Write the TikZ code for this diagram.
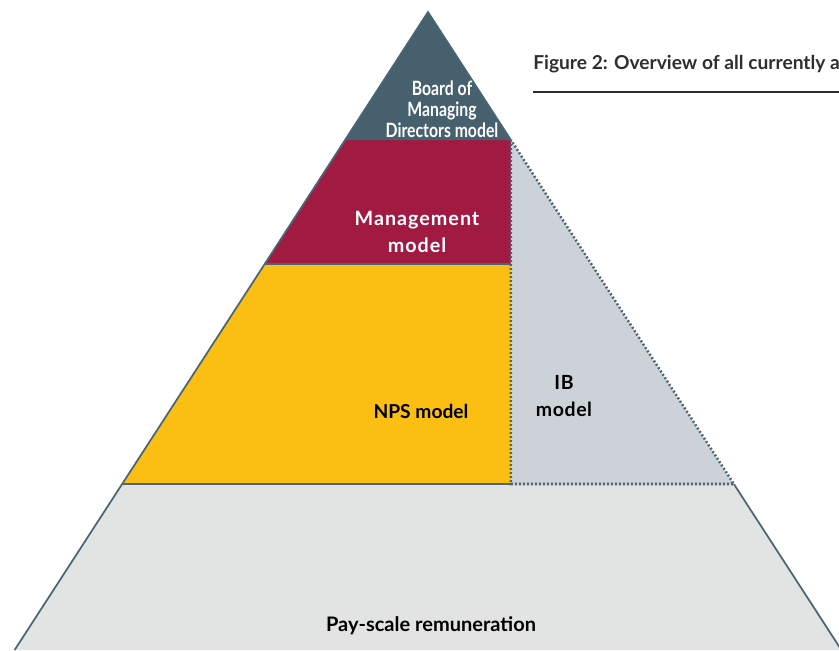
\documentclass[tikz,border=0pt]{standalone}
\usepackage{fontspec}
\setmainfont{Lato}
\newfontfamily\narrowfont[FakeStretch=0.8]{Lato}
\usetikzlibrary{calc}

\definecolor{edgeblue}{HTML}{4A6573}
\definecolor{boardblue}{HTML}{46606E}
\definecolor{mgmtred}{HTML}{A11A42}
\definecolor{npsyellow}{HTML}{FBBF14}
\definecolor{ibgrey}{HTML}{CDD2D8}
\definecolor{paygrey}{HTML}{E2E3E3}
\definecolor{titlegrey}{HTML}{2E2E2E}

\begin{document}
\begin{tikzpicture}[x=0.75pt,y=-0.75pt,
	edge/.style={draw=edgeblue, line width=1.3pt},
	dotedge/.style={draw=edgeblue, line width=1.9pt, dash pattern=on 1.4pt off 1.6pt},
	label/.style={font=\bfseries, align=center, inner sep=0pt}]
	
	\useasboundingbox (0,0) rectangle (839,650);
	
	% corners of the pyramid
	\coordinate (apex) at (428,12);
	\coordinate (baseL) at (14.6,650);
	\coordinate (baseR) at (841.4,650);
	
	% levels on both flanks
	\coordinate (bL) at ($(apex)!{128/638}!(baseL)$);
	\coordinate (bR) at ($(apex)!{128/638}!(baseR)$);
	\coordinate (mL) at ($(apex)!{252/638}!(baseL)$);
	\coordinate (nL) at ($(apex)!{472/638}!(baseL)$);
	\coordinate (nR) at ($(apex)!{472/638}!(baseR)$);
	
	% divider between NPS and IB
	\coordinate (divT) at (bR);
	\coordinate (divM) at (bR |- mL);
	\coordinate (divB) at (bR |- nL);
	
	% fills
	\fill[paygrey] (nL) -- (nR) -- (baseR) -- (baseL) -- cycle;
	\fill[npsyellow] (mL) -- (divM) -- (divB) -- (nL) -- cycle;
	\fill[mgmtred] (bL) -- (divT) -- (divM) -- (mL) -- cycle;
	\fill[boardblue] (apex) -- (bR) -- (bL) -- cycle;
	\fill[ibgrey] (divT) -- (nR) -- (divB) -- cycle;
	
	% outlines
	\draw[edge] (baseL) -- (apex) -- (divT);
	\draw[edge] (nR) -- (baseR);
	\draw[edge] (mL) -- (divM);
	\draw[edge] (nL) -- (divB);
	\draw[dotedge] (divT) -- (divB) -- (nR) -- cycle;
	
	% labels
	\node[label, text=white, font=\narrowfont\bfseries\fontsize{14.8pt}{15.6pt}\selectfont] (board) at (442,109) {Board of\\Managing\\Directors model};
	\node[label, text=white, font=\bfseries\fontsize{14.8pt}{20.5pt}\selectfont\addfontfeature{LetterSpace=5}] (mgmt) at (417,232) {Management\\model};
	\node[label, text=black, font=\bfseries\fontsize{14.4pt}{14pt}\selectfont] (nps) at (421,411) {NPS model};
	\node[label, text=black, font=\bfseries\fontsize{14.6pt}{20pt}\selectfont\addfontfeature{LetterSpace=3}] (ib) at (564,396) {IB\\model};
	\node[label, text=black, font=\bfseries\fontsize{15pt}{17pt}\selectfont] (pay) at (431,626) {Pay-scale remuneration};
	
	% caption
	\node[anchor=base west, inner sep=0pt, text=titlegrey, font=\bfseries\fontsize{14.4pt}{15pt}\selectfont] (title) at (533,69) {Figure 2: Overview of all currently a};
	\coordinate (ruleR) at (839,92);
	\draw[titlegrey, line width=1pt] (533,92) -- (ruleR);
	
\end{tikzpicture}
\end{document}
